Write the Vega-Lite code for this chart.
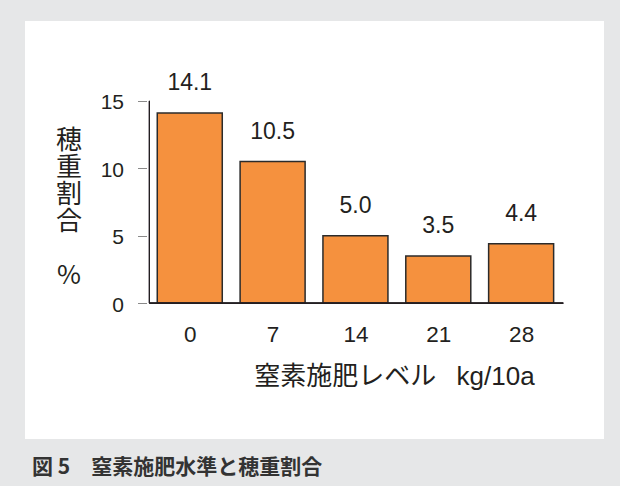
{
  "$schema": "https://vega.github.io/schema/vega-lite/v6.json",
  "width": 579,
  "height": 418,
  "autosize": {"type": "none"},
  "padding": {"left": 25, "top": 21, "right": 16, "bottom": 47},
  "background": "#e6e7e8",
  "view": {"fill": "#ffffff", "stroke": null},
  "data": {
    "values": [
      {"level": 0, "ratio": 14.1},
      {"level": 7, "ratio": 10.5},
      {"level": 14, "ratio": 5.0},
      {"level": 21, "ratio": 3.5},
      {"level": 28, "ratio": 4.4}
    ]
  },
  "title": {
    "text": "図 5　窒素施肥水準と穂重割合",
    "orient": "bottom",
    "anchor": "start",
    "frame": "group",
    "offset": 17.5,
    "dx": 7,
    "baseline": "top",
    "font": "Noto Sans CJK JP",
    "fontSize": 21,
    "fontWeight": "bold",
    "color": "#333333"
  },
  "layer": [
    {
      "mark": {"type": "bar", "size": 65, "fill": "#f5913e", "stroke": "#2b2b2b", "strokeWidth": 1.5},
      "encoding": {
        "x": {
          "field": "level",
          "type": "quantitative",
          "scale": {"domain": [-13.5, 34.58], "nice": false, "zero": false},
          "axis": {
            "values": [0, 7, 14, 21, 28],
            "offset": -135.9,
            "domain": false,
            "ticks": false,
            "tickSize": 0,
            "grid": false,
            "labelPadding": 20,
            "labelFont": "Liberation Sans",
            "labelFontSize": 22.5,
            "labelColor": "#231f20",
            "labelFlush": false,
            "labelOverlap": false,
            "title": "窒素施肥レベル\u2002 kg/10a",
            "titleFont": "Liberation Sans, Noto Sans CJK JP",
            "titleFontSize": 26,
            "titleFontWeight": "normal",
            "titleColor": "#231f20",
            "titleX": 369,
            "titleY": 60,
            "titleAlign": "center",
            "titleBaseline": "top"
          }
        },
        "y": {
          "field": "ratio",
          "type": "quantitative",
          "scale": {"domain": [-10.08, 20.93], "nice": false, "zero": false},
          "axis": {
            "values": [0, 5, 10, 15],
            "offset": -121.5,
            "domain": false,
            "ticks": true,
            "tickSize": 9,
            "tickColor": "#8a8a8a",
            "tickWidth": 1,
            "grid": false,
            "labelPadding": 14,
            "labelOffset": 2,
            "labelFont": "Liberation Sans",
            "labelFontSize": 21,
            "labelColor": "#231f20",
            "labelFlush": false,
            "labelOverlap": false,
            "title": ["穂", "重", "割", "合", "\u200b", "%"],
            "titleAngle": 0,
            "titleX": -78,
            "titleY": 106,
            "titleAlign": "center",
            "titleBaseline": "top",
            "titleLineHeight": 27,
            "titleFont": "Noto Sans CJK JP",
            "titleFontSize": 26,
            "titleFontWeight": "normal",
            "titleColor": "#231f20"
          }
        },
        "y2": {"datum": 0}
      }
    },
    {
      "mark": {"type": "text", "baseline": "alphabetic", "dy": -23, "font": "Liberation Sans", "fontSize": 23, "color": "#231f20"},
      "encoding": {
        "x": {"field": "level", "type": "quantitative"},
        "y": {"field": "ratio", "type": "quantitative"},
        "text": {"field": "ratio", "type": "quantitative", "format": ".1f"}
      }
    },
    {
      "mark": {"type": "rule", "color": "#231f20", "strokeWidth": 1},
      "encoding": {"x": {"datum": -3.41}, "y": {"datum": 0}, "y2": {"datum": 15}}
    },
    {
      "mark": {"type": "rule", "color": "#231f20", "strokeWidth": 1},
      "encoding": {"x": {"datum": -3.41}, "x2": {"datum": 31.56}, "y": {"datum": 0}}
    }
  ]
}
